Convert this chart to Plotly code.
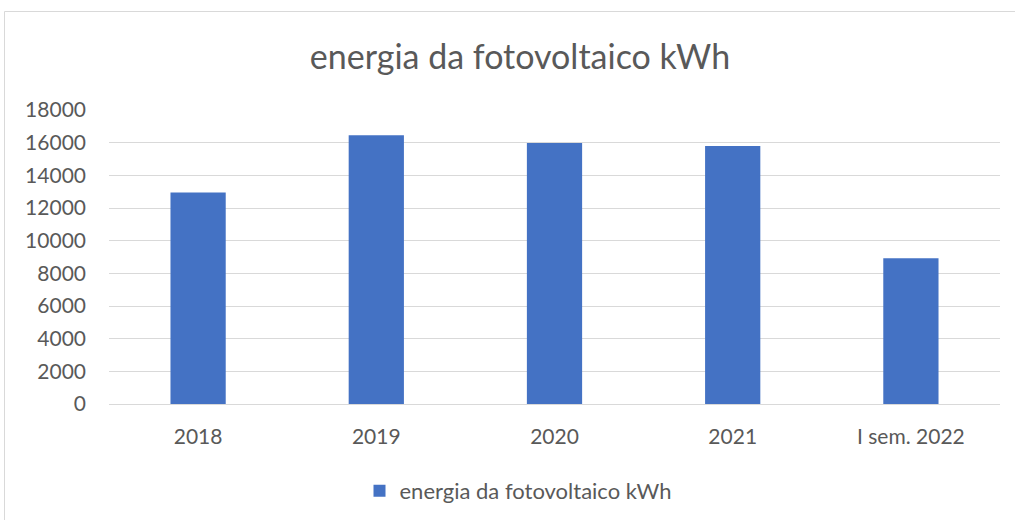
import plotly.graph_objects as go

categories = ["2018", "2019", "2020", "2021", "I sem. 2022"]
values = [12950, 16450, 15980, 15800, 8930]
series_name = "energia da fotovoltaico kWh"
title_text = "energia da fotovoltaico kWh"
y_ticks = [0, 2000, 4000, 6000, 8000, 10000, 12000, 14000, 16000, 18000]
y_tick_text = [str(v) for v in y_ticks]

FONT = "Lato, 'Open Sans', sans-serif"
GRAY = "#595959"

fig = go.Figure()
fig.add_trace(go.Bar(
    x=categories, y=values, name=series_name,
    marker=dict(color="#4472C4", line=dict(width=0)),
    showlegend=True,
))

W, H = 1015, 520
ml, mr, mt, mb = 109, 15, 110, 116
pw, ph = W - ml - mr, H - mt - mb

def px_x(x):
    return (x - ml) / pw

def px_y(y):
    return (H - mb - y) / ph

fig.update_layout(
    width=W, height=H,
    margin=dict(l=ml, r=mr, t=mt, b=mb, autoexpand=False),
    paper_bgcolor="white", plot_bgcolor="white",
    bargap=0.69,
    font=dict(family=FONT, color=GRAY, size=21),
    title=dict(text=title_text, x=520 / W, xref="container", xanchor="center",
               y=1 - 57 / H, yref="container", yanchor="middle",
               font=dict(size=34, color=GRAY, family=FONT)),
    legend=dict(orientation="h", x=518 / W, xanchor="center", xref="container",
                y=1 - 491 / H, yanchor="middle", yref="container",
                font=dict(size=22, color=GRAY), itemwidth=30),
    xaxis=dict(showgrid=False, showline=True, linecolor="#d9d9d9", linewidth=1,
               ticks="", tickfont=dict(size=21, color=GRAY), ticklabelstandoff=14),
    yaxis=dict(range=[0, 18000], tickvals=y_ticks, ticktext=y_tick_text, showgrid=True,
               gridcolor="#d9d9d9", gridwidth=1, zeroline=False, showline=False,
               ticks="", tickfont=dict(size=21, color=GRAY), ticklabelstandoff=22),
    shapes=[dict(type="rect", xref="paper", yref="paper",
                 x0=px_x(4.5), x1=px_x(1030), y0=px_y(11.5), y1=px_y(530),
                 line=dict(color="#d9d9d9", width=1), fillcolor="rgba(0,0,0,0)",
                 layer="below")],
)

fig.write_html("out.html", config={"displayModeBar": False},
               post_script="document.body.style.margin='0';document.body.style.overflow='hidden';")
